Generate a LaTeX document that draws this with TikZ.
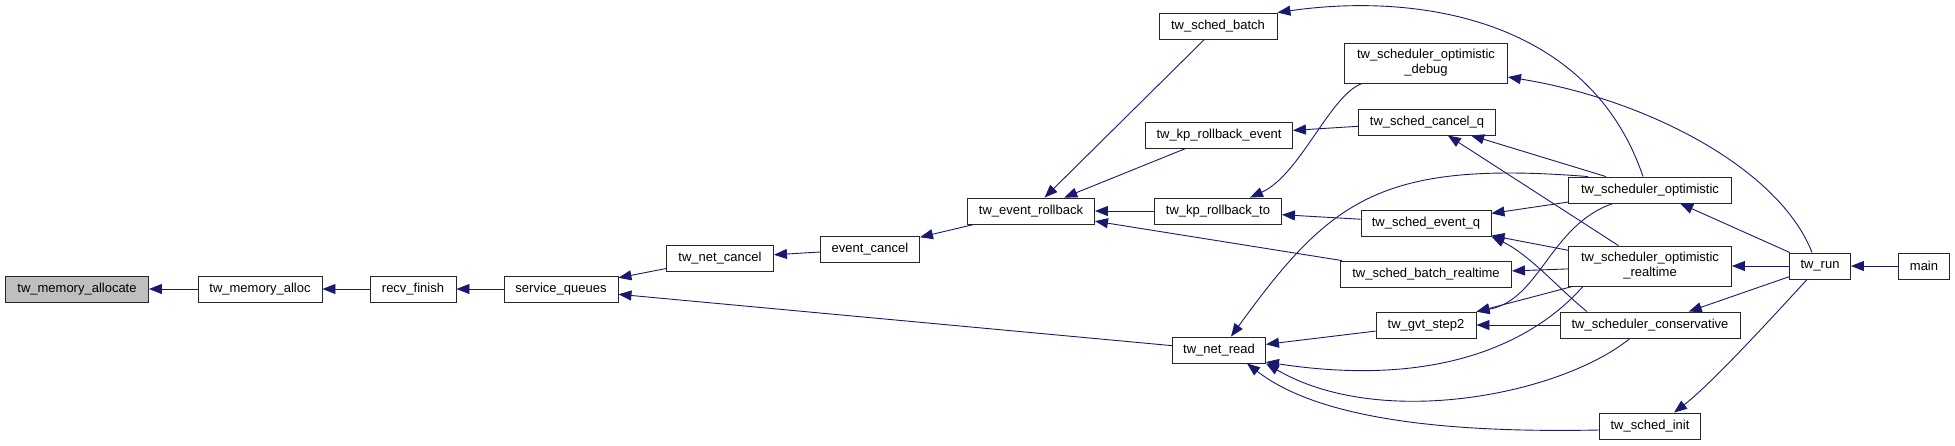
\documentclass[tikz,border=0pt]{standalone}
\usepackage{fontspec}
\setmainfont{Liberation Sans}
\usetikzlibrary{arrows.meta}
\definecolor{edgeblue}{HTML}{191970}
\definecolor{boxgray}{HTML}{BFBFBF}

\begin{document}
\begin{tikzpicture}[
  x=1pt, y=-1pt,
  every node/.style={font=\fontsize{13}{15}\selectfont},
  fnbox/.style={rectangle, draw=black!85, fill=white, line width=0.9pt, inner sep=0pt, minimum width=#1, minimum height=26pt, align=center},
  fnboxtall/.style={fnbox=#1, minimum height=40pt},
  calls/.style={-{Triangle[length=13pt, width=10pt]}, draw=edgeblue, line width=0.9pt},
]
\useasboundingbox[fill=white] (0,0) rectangle (1955,445);

% Call chain, callee on the left
\node[fnbox=143pt, fill=boxgray] (mall) at (77,289) {tw\_memory\_allocate};
\node[fnbox=124pt] (malloc) at (260,289) {tw\_memory\_alloc};
\node[fnbox=86pt] (recv) at (413,289) {recv\_finish};
\node[fnbox=114pt] (sq) at (561,289) {service\_queues};
\node[fnbox=107pt] (netcancel) at (720,258) {tw\_net\_cancel};
\node[fnbox=99pt] (evcancel) at (870,249) {event\_cancel};
\node[fnbox=127pt] (evrb) at (1031,211) {tw\_event\_rollback};

% Middle column
\node[fnbox=118pt] (batch) at (1218,26) {tw\_sched\_batch};
\node[fnbox=147pt] (kpevent) at (1219,135) {tw\_kp\_rollback\_event};
\node[fnbox=127pt] (kpto) at (1218,211) {tw\_kp\_rollback\_to};
\node[fnbox=93pt] (netread) at (1219,350) {tw\_net\_read};

\node[fnboxtall=163pt] (optdebug) at (1426,63) {tw\_scheduler\_optimistic\\\_debug};
\node[fnbox=137pt] (cancelq) at (1427,122) {tw\_sched\_cancel\_q};
\node[fnbox=130pt] (eventq) at (1426,223) {tw\_sched\_event\_q};
\node[fnbox=171pt] (batchrt) at (1426,274) {tw\_sched\_batch\_realtime};
\node[fnbox=100pt] (gvt) at (1426,325) {tw\_gvt\_step2};

% Schedulers
\node[fnbox=163pt] (opt) at (1650,190) {tw\_scheduler\_optimistic};
\node[fnboxtall=163pt] (optrt) at (1650,266) {tw\_scheduler\_optimistic\\\_realtime};
\node[fnbox=180pt] (cons) at (1650,325) {tw\_scheduler\_conservative};
\node[fnbox=101pt] (init) at (1650,426) {tw\_sched\_init};

\node[fnbox=61pt] (run) at (1820,266) {tw\_run};
\node[fnbox=51pt] (main) at (1924,266) {main};

% Straight calls
\draw[calls] (malloc) -- (mall);
\draw[calls] (recv) -- (malloc);
\draw[calls] (sq) -- (recv);
\draw[calls] (netcancel) -- (sq);
\draw[calls] (netread) -- (sq);
\draw[calls] (evcancel) -- (netcancel);
\draw[calls] (evrb) -- (evcancel);
\draw[calls] (batch) -- (evrb);
\draw[calls] (kpevent) -- (evrb);
\draw[calls] (kpto) -- (evrb);
\draw[calls] (batchrt) -- (evrb);
\draw[calls] (cancelq) -- (kpevent);
\draw[calls] (eventq) -- (kpto);
\draw[calls] (opt) -- (cancelq);
\draw[calls] (optrt) -- (cancelq);
\draw[calls] (opt) -- (eventq);
\draw[calls] (optrt) -- (eventq);
\draw[calls] (optrt) -- (batchrt);
\draw[calls] (optrt) -- (gvt);
\draw[calls] (cons) -- (gvt);
\draw[calls] (gvt) -- (netread);
\draw[calls] (run) -- (opt);
\draw[calls] (run) -- (optrt);
\draw[calls] (run) -- (cons);
\draw[calls] (main) -- (run);

% Curved calls
\draw[calls] ([xshift=-7pt]opt.north) .. controls (1590,20) and (1420,-8) .. (batch.north east);
\draw[calls] ([xshift=-8pt]run.north) .. controls (1780,170) and (1650,100) .. ([yshift=-14pt]optdebug.east);
\draw[calls] ([xshift=18pt]optdebug.south west) .. controls (1330,95) and (1300,175) .. ([xshift=32pt]kpto.north);
\draw[calls] ([xshift=20pt]opt.north west) .. controls (1380,160) and (1330,200) .. ([xshift=12pt]netread.north);
\draw[calls] ([xshift=-37pt]opt.south) .. controls (1550,225) and (1540,300) .. (gvt.north east);
\draw[calls] ([xshift=-63pt]cons.north) .. controls (1560,290) and (1530,255) .. (eventq.south east);
\draw[calls] ([xshift=-67pt]optrt.south) .. controls (1540,335) and (1450,390) .. ([yshift=-12pt]netread.east);
\draw[calls] ([xshift=-20pt]cons.south) .. controls (1560,395) and (1380,430) .. (netread.south east);
\draw[calls] ([yshift=-4pt]init.west) .. controls (1450,433) and (1320,420) .. ([xshift=28pt]netread.south);
\draw[calls] ([xshift=-13pt]run.south) .. controls (1770,320) and (1710,385) .. ([xshift=24pt]init.north);

\end{tikzpicture}
\end{document}
